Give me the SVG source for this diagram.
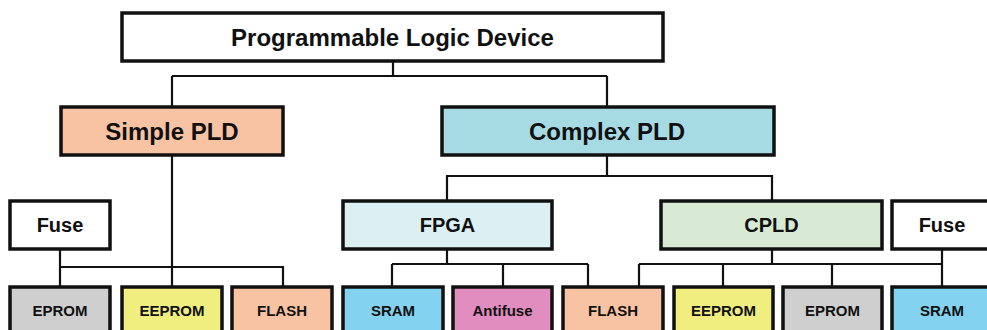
<svg xmlns="http://www.w3.org/2000/svg" width="987" height="330" viewBox="0 0 987 330">
<style>
.box{stroke:#111;stroke-width:3.5}
.t{font-family:"Liberation Sans",Arial,sans-serif;font-weight:bold;fill:#111;text-anchor:middle}
.t1{font-size:24px}
.t2{font-size:20px}
.t3{font-size:15px}
.con{fill:none;stroke:#111;stroke-width:2.2}
</style>
<rect width="987" height="330" fill="#fff"/>
<g id="connectors">
<path class="con" d="M393 61V76M172 76H607M172 76V107M607 76V107"/>
<path class="con" d="M172 155V287M60 249V267H283V287M60 267V287"/>
<path class="con" d="M607 155V176H447V201M607 176H772V201"/>
<path class="con" d="M447 249V264M392 264H588M392 264V287M503 264V287M588 264V287"/>
<path class="con" d="M772 249V264M639 264H942M639 264V287M723 264V287M832 264V287M942 249V287"/>
</g>
<g id="pld"><rect class="box" x="122" y="13" width="541" height="48" fill="#fff"/><text class="t t1" x="392.5" y="46">Programmable Logic Device</text></g>
<g id="simple"><rect class="box" x="61" y="107" width="222" height="48" fill="#f8c3a3"/><text class="t t1" x="172" y="139.5">Simple PLD</text></g>
<g id="complex"><rect class="box" x="442" y="107" width="332" height="48" fill="#a7dbe4"/><text class="t t1" x="607" y="139.5">Complex PLD</text></g>
<g id="fuse1"><rect class="box" x="10" y="201" width="100" height="48" fill="#fff"/><text class="t t2" x="60" y="232">Fuse</text></g>
<g id="fpga"><rect class="box" x="343" y="201" width="209" height="48" fill="#dcf0f4"/><text class="t t2" x="447.5" y="232">FPGA</text></g>
<g id="cpld"><rect class="box" x="661" y="201" width="221" height="48" fill="#d9ead4"/><text class="t t2" x="771.5" y="232">CPLD</text></g>
<g id="fuse2"><rect class="box" x="892" y="201" width="100" height="48" fill="#fff"/><text class="t t2" x="942" y="232">Fuse</text></g>
<g id="eprom1"><rect class="box" x="10" y="287" width="100" height="48" fill="#cfcfcf"/><text class="t t3" x="60" y="316">EPROM</text></g>
<g id="eeprom1"><rect class="box" x="122" y="287" width="100" height="48" fill="#f0ee7e"/><text class="t t3" x="172" y="316">EEPROM</text></g>
<g id="flash1"><rect class="box" x="232" y="287" width="100" height="48" fill="#f8c3a3"/><text class="t t3" x="282" y="316">FLASH</text></g>
<g id="sram1"><rect class="box" x="343" y="287" width="100" height="48" fill="#83d3f0"/><text class="t t3" x="393" y="316">SRAM</text></g>
<g id="antifuse"><rect class="box" x="453" y="287" width="99" height="48" fill="#e28dbf"/><text class="t t3" x="502.5" y="316">Antifuse</text></g>
<g id="flash2"><rect class="box" x="563" y="287" width="100" height="48" fill="#f8c3a3"/><text class="t t3" x="613" y="316">FLASH</text></g>
<g id="eeprom2"><rect class="box" x="674" y="287" width="99" height="48" fill="#f0ee7e"/><text class="t t3" x="723.5" y="316">EEPROM</text></g>
<g id="eprom2"><rect class="box" x="783" y="287" width="99" height="48" fill="#cfcfcf"/><text class="t t3" x="832.5" y="316">EPROM</text></g>
<g id="sram2"><rect class="box" x="892" y="287" width="100" height="48" fill="#83d3f0"/><text class="t t3" x="942" y="316">SRAM</text></g>
</svg>
